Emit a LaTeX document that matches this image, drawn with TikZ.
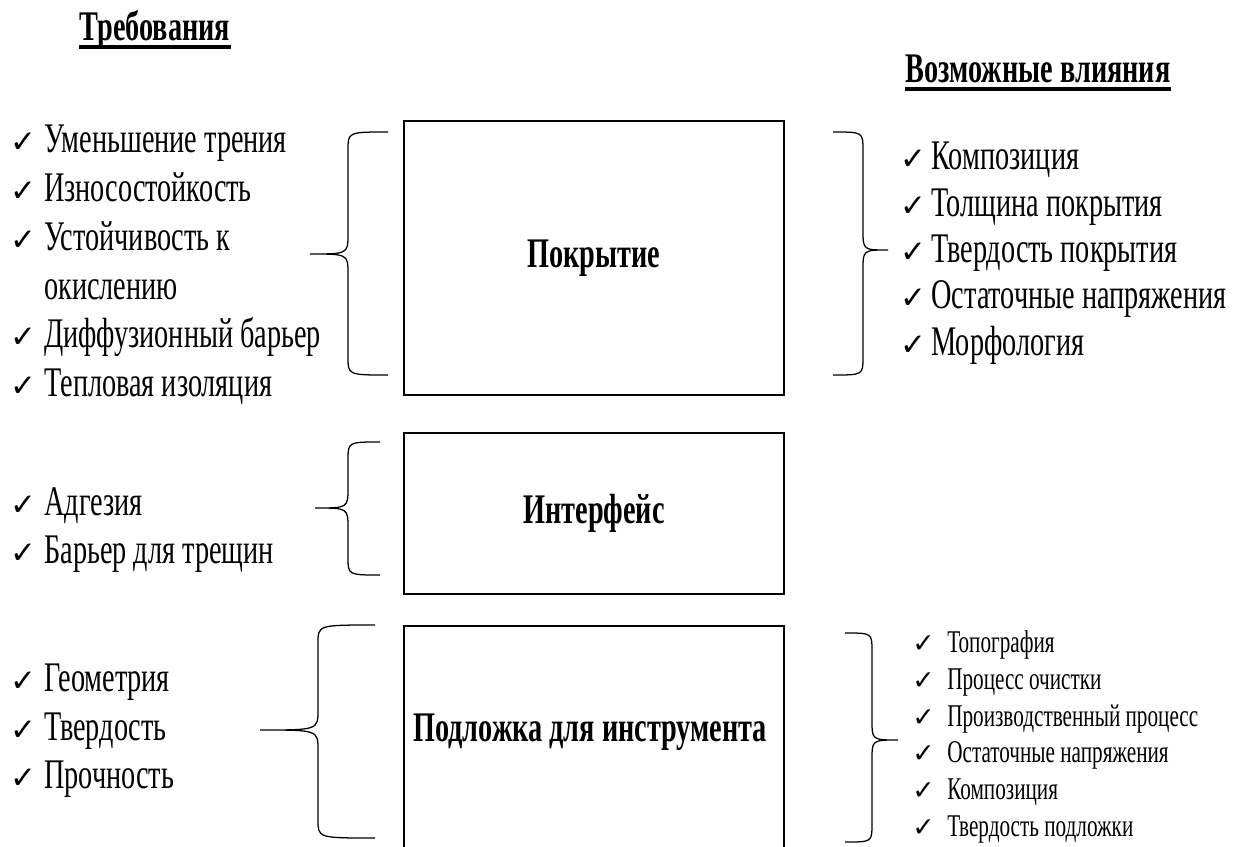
\documentclass[tikz,border=0pt]{standalone}
\usepackage{fontspec}
\setmainfont{Liberation Serif}[FakeStretch=0.67]
\newfontfamily\symfont{DejaVu Sans}
\usetikzlibrary{positioning}

\newcommand{\chk}[1][22]{{\symfont\fontsize{#1}{#1}\selectfont ✓}}
% brace: end x, spine x, tip x, top y, middle y, bottom y
\newcommand{\drawbrace}[6]{%
  \draw[brc] (#1,#4) .. controls (#2,#4) .. (#2,#4-0.45)
    -- (#2,#5+0.5) .. controls (#2,#5) .. (#3,#5)
    .. controls (#2,#5) .. (#2,#5-0.5)
    -- (#2,#6+0.45) .. controls (#2,#6) .. (#1,#6);
}

\begin{document}
\begin{tikzpicture}[
    box/.style={draw, line width=1.2pt, minimum width=9.5cm, inner sep=0pt},
    boxtxt/.style={font=\fontsize{30}{34}\selectfont\bfseries},
    head/.style={font=\fontsize{30}{34}\selectfont\bfseries, inner sep=0pt, anchor=base},
    uline/.style={line width=2.4pt},
    lst/.style={anchor=west, inner sep=0pt, align=left},
    brc/.style={line width=0.9pt}
]
\clip (0,0) rectangle (31.2,-21.15);

% headings
\node[head] (reqtitle) at (3.875,-1.0) {Требования};
\draw[uline] ([yshift=-5pt]reqtitle.base west) -- ([yshift=-5pt]reqtitle.base east);
\node[head] (efftitle) at (25.95,-2.05) {Возможные влияния};
\draw[uline] ([yshift=-5pt]efftitle.base west) -- ([yshift=-5pt]efftitle.base east);

% layers
\node[box, minimum height=6.85cm] (cov) at (14.85,-6.45) {};
\node[boxtxt] (covtxt) at (cov.center) {Покрытие};
\node[box, minimum height=4.025cm] (intf) at (14.85,-12.8375) {};
\node[boxtxt] (intftxt) at (intf.center) {Интерфейс};
\node[box, minimum height=6.5cm, anchor=north] (sub) at (14.85,-15.625) {};
\node[boxtxt] (subtxt) at (14.75,-18.3) {Подложка для инструмента};

% requirements
\node[lst, font=\fontsize{30}{34.7}\selectfont] (reqcov) at (0.25,-6.625) {%
  \begin{tabular}{@{}p{0.85cm}@{}l@{}}
  \chk & Уменьшение трения\\
  \chk & Износостойкость\\
  \chk & Устойчивость к\\
       & окислению\\
  \chk & Диффузионный барьер\\
  \chk & Тепловая изоляция
  \end{tabular}};
\node[lst, font=\fontsize{30}{34.2}\selectfont] (reqint) at (0.25,-13.25) {%
  \begin{tabular}{@{}p{0.85cm}@{}l@{}}
  \chk & Адгезия\\
  \chk & Барьер для трещин
  \end{tabular}};
\node[lst, font=\fontsize{30}{34.5}\selectfont] (reqsub) at (0.25,-18.26) {%
  \begin{tabular}{@{}p{0.85cm}@{}l@{}}
  \chk & Геометрия\\
  \chk & Твердость\\
  \chk & Прочность
  \end{tabular}};

% influences
\node[lst, font=\fontsize{30}{33}\selectfont] (effcov) at (22.5,-6.33) {%
  \begin{tabular}{@{}p{0.78cm}@{}l@{}}
  \chk & Композиция\\
  \chk & Толщина покрытия\\
  \chk & Твердость покрытия\\
  \chk & Остаточные напряжения\\
  \chk & Морфология
  \end{tabular}};
\node[lst, font=\fontsize{22.5}{26.2}\selectfont] (effsub) at (22.8,-18.43) {%
  \begin{tabular}{@{}p{0.875cm}@{}l@{}}
  \chk[19] & Топография\\
  \chk[19] & Процесс очистки\\
  \chk[19] & Производственный процесс\\
  \chk[19] & Остаточные напряжения\\
  \chk[19] & Композиция\\
  \chk[19] & Твердость подложки
  \end{tabular}};

% braces
\drawbrace{9.7}{8.7}{7.75}{-3.3}{-6.35}{-9.375}
\drawbrace{20.825}{21.575}{22.2}{-3.3}{-6.25}{-9.375}
\drawbrace{9.5}{8.7}{7.875}{-11.05}{-12.7}{-14.375}
\drawbrace{9.375}{7.95}{6.5}{-15.625}{-18.25}{-20.95}
\drawbrace{21.125}{21.8}{22.45}{-15.825}{-18.5}{-21.05}
\end{tikzpicture}
\end{document}
